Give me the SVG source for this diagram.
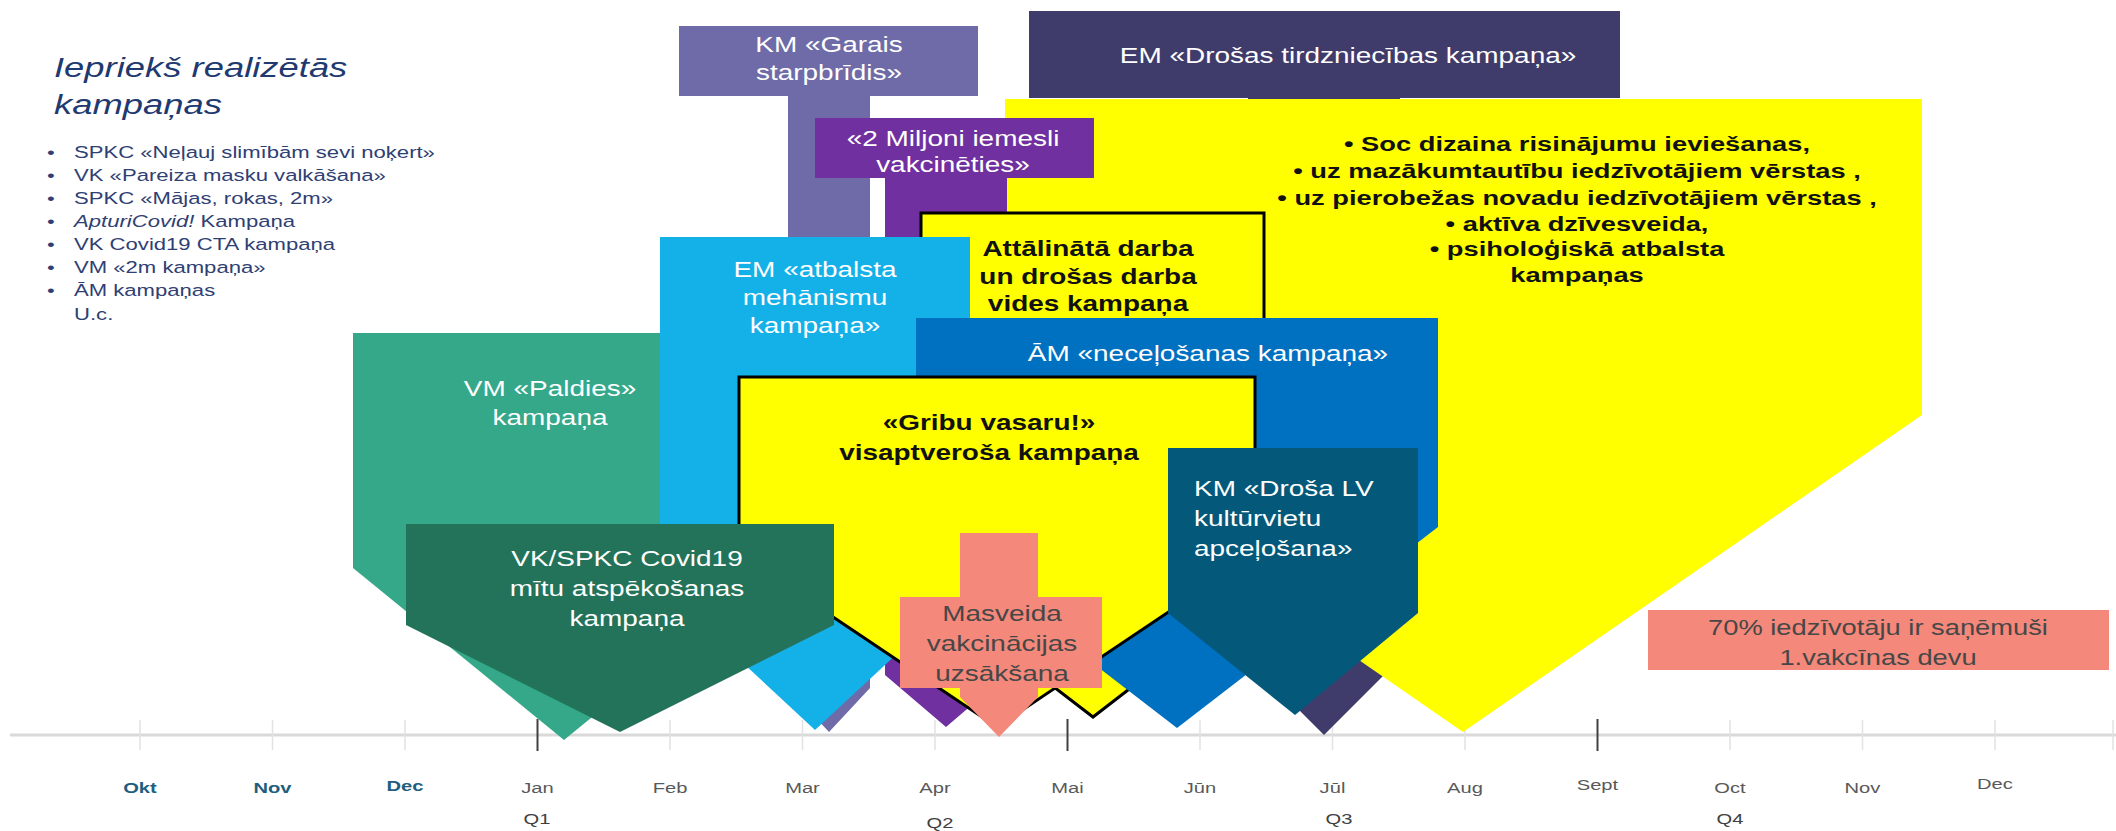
<svg xmlns="http://www.w3.org/2000/svg" width="2116" height="831" viewBox="0 0 2116 831" xml:space="preserve">
<style>
text{font-family:"Liberation Sans",Arial,sans-serif;}
.c{text-anchor:middle}
.w{fill:#ffffff;font-size:21.5px}
.dk{fill:#474747;font-size:21.5px}
.bk{fill:#111111;font-weight:bold;font-size:21.5px}
.yb{fill:#111111;font-weight:bold;font-size:21px}
.ttl{fill:#1F3A70;font-size:28px;font-style:italic}
.lst{fill:#2F4073;font-size:17px}
.mo{fill:#595959;font-size:15.5px;text-anchor:middle}
.mo1{fill:#1F5E7E;font-size:15.5px;font-weight:bold;text-anchor:middle}
.q{fill:#404040;font-size:15.5px;text-anchor:middle}
.bd{stroke:#000000;stroke-width:3;stroke-linejoin:miter}
.tl{stroke:#E2E2E2;stroke-width:1.5}
.td{stroke:#404040;stroke-width:2}
</style>
<rect x="0" y="0" width="2116" height="831" fill="#ffffff"/>

<g id="timeline">
<line x1="10" y1="735" x2="2116" y2="735" stroke="#D9D9D9" stroke-width="3"/>
<line class="tl" x1="140" y1="720" x2="140" y2="750"/>
<line class="tl" x1="272.5" y1="720" x2="272.5" y2="750"/>
<line class="tl" x1="405" y1="720" x2="405" y2="750"/>
<line class="td" x1="537.5" y1="719" x2="537.5" y2="751"/>
<line class="tl" x1="670" y1="720" x2="670" y2="750"/>
<line class="tl" x1="802.5" y1="720" x2="802.5" y2="750"/>
<line class="tl" x1="935" y1="720" x2="935" y2="750"/>
<line class="td" x1="1067.5" y1="719" x2="1067.5" y2="751"/>
<line class="tl" x1="1200" y1="720" x2="1200" y2="750"/>
<line class="tl" x1="1332.5" y1="720" x2="1332.5" y2="750"/>
<line class="tl" x1="1465" y1="720" x2="1465" y2="750"/>
<line class="td" x1="1597.5" y1="719" x2="1597.5" y2="751"/>
<line class="tl" x1="1730" y1="720" x2="1730" y2="750"/>
<line class="tl" x1="1862.5" y1="720" x2="1862.5" y2="750"/>
<line class="tl" x1="1995" y1="720" x2="1995" y2="750"/>
<line class="tl" x1="2113" y1="720" x2="2113" y2="750"/>
<g transform="scale(1.3 1)">
<text class="mo1" x="107.7" y="793">Okt</text>
<text class="mo1" x="209.6" y="793">Nov</text>
<text class="mo1" x="311.5" y="791">Dec</text>
<text class="mo" x="413.5" y="793">Jan</text>
<text class="mo" x="515.4" y="793">Feb</text>
<text class="mo" x="617.3" y="793">Mar</text>
<text class="mo" x="719.2" y="793">Apr</text>
<text class="mo" x="821.2" y="793">Mai</text>
<text class="mo" x="923.1" y="793">Jūn</text>
<text class="mo" x="1025" y="793">Jūl</text>
<text class="mo" x="1126.9" y="793">Aug</text>
<text class="mo" x="1228.8" y="790">Sept</text>
<text class="mo" x="1330.8" y="793">Oct</text>
<text class="mo" x="1432.7" y="793">Nov</text>
<text class="mo" x="1534.6" y="789">Dec</text>
<text class="q" x="413.1" y="824">Q1</text>
<text class="q" x="723.1" y="828">Q2</text>
<text class="q" x="1030" y="824">Q3</text>
<text class="q" x="1330.8" y="824">Q4</text>
</g>
</g>

<g id="connectors"></g>

<g id="km-garais">
<path d="M679,26 H978 V96 H870 V688 L829,732 L788,688 V96 H679 Z" fill="#6E6BA8"/>
<g transform="translate(829 0) scale(1.3 1)"><text class="w c" y="52">KM  «Garais</text><text class="w c" y="80">starpbrīdis»</text></g>
</g>

<g id="em-drosas">
<path d="M1029,11 H1620 V98 H1400 V659 L1324,735 L1248,659 V98 H1029 Z" fill="#3F3C6B"/>
<g transform="translate(1348 0) scale(1.3 1)"><text class="w c" y="63">EM «Drošas tirdzniecības kampaņa»</text></g>
</g>

<g id="soc-dizains">
<path d="M1005,99 H1922 V415 L1463,732 L1005,415 Z" fill="#FFFF00"/>
<g transform="translate(1577 0) scale(1.3 1)">
<text class="yb c" y="151">•  Soc dizaina risinājumu  ieviešanas,</text>
<text class="yb c" y="178">•   uz mazākumtautību  iedzīvotājiem vērstas ,</text>
<text class="yb c" y="205">•    uz pierobežas novadu  iedzīvotājiem vērstas ,</text>
<text class="yb c" y="231">•   aktīva dzīvesveida,</text>
<text class="yb c" y="256">•   psiholoģiskā  atbalsta</text>
<text class="yb c" y="282">kampaņas</text>
</g>
</g>

<g id="miljoni">
<path d="M815,118 H1094 V178 H1007 V675 L946,727 L885,675 V178 H815 Z" fill="#7030A0"/>
<g transform="translate(953 0) scale(1.3 1)"><text class="w c" y="146">«2 Miljoni iemesli</text><text class="w c" y="172">vakcinēties»</text></g>
</g>

<g id="attalinata">
<path class="bd" d="M921,213 H1264 V585 L1093,717 L921,585 Z" fill="#FFFF00"/>
<g transform="translate(1088 0) scale(1.3 1)"><text class="bk c" y="256">Attālinātā darba</text><text class="bk c" y="284">un drošas darba</text><text class="bk c" y="311">vides kampaņa</text></g>
</g>

<g id="vm-paldies">
<path d="M353,333 H775 V568 L564,740 L353,568 Z" fill="#35A88A"/>
<g transform="translate(550 0) scale(1.3 1)"><text class="w c" y="396">VM «Paldies»</text><text class="w c" y="425">kampaņa</text></g>
</g>

<g id="em-atbalsta">
<path d="M660,237 H970 V586 L815,730 L660,586 Z" fill="#14B0E8"/>
<g transform="translate(815 0) scale(1.3 1)"><text class="w c" y="277">EM «atbalsta</text><text class="w c" y="305">mehānismu</text><text class="w c" y="333">kampaņa»</text></g>
</g>

<g id="am-neceljosanas">
<path d="M916,318 H1438 V527 L1177,728 L916,527 Z" fill="#0070C0"/>
<g transform="translate(1208 0) scale(1.3 1)"><text class="w c" y="361">ĀM «neceļošanas kampaņa»</text></g>
</g>

<g id="gribu-vasaru">
<path class="bd" d="M739,377 H1255 V554 L997,727 L739,554 Z" fill="#FFFF00"/>
<g transform="translate(989 0) scale(1.3 1)"><text class="bk c" y="430">«Gribu vasaru!»</text><text class="bk c" y="460">visaptveroša kampaņa</text></g>
</g>

<g id="vk-spkc">
<path d="M406,524 H834 V625 L620,732 L406,625 Z" fill="#22735A"/>
<g transform="translate(627 0) scale(1.3 1)"><text class="w c" y="566">VK/SPKC Covid19</text><text class="w c" y="596">mītu atspēkošanas</text><text class="w c" y="626">kampaņa</text></g>
</g>

<g id="km-drosa-lv">
<path d="M1168,448 H1418 V613 L1295,715 L1168,613 Z" fill="#04597A"/>
<g transform="translate(1194 0) scale(1.3 1)"><text class="w" y="496">KM «Droša LV</text><text class="w" y="526">kultūrvietu</text><text class="w" y="556">apceļošana»</text></g>
</g>

<g id="masveida">
<path d="M960,533 H1038 V597 H1102 V688 H1038 V697 L999,737 L960,697 V688 H900 V597 H960 Z" fill="#F4887B"/>
<g transform="translate(1002 0) scale(1.3 1)"><text class="dk c" y="621">Masveida</text><text class="dk c" y="651">vakcinācijas</text><text class="dk c" y="681">uzsākšana</text></g>
</g>

<g id="vakcinas-70">
<rect x="1648" y="610" width="461" height="60" fill="#F4887B"/>
<g transform="translate(1878 0) scale(1.27 1)"><text class="dk c" y="635">70% iedzīvotāju ir saņēmuši</text><text class="dk c" y="665">1.vakcīnas devu</text></g>
</g>

<g id="iepriekš">
<g transform="translate(54 0) scale(1.3 1)"><text class="ttl" y="77">Iepriekš realizētās</text><text class="ttl" y="114">kampaņas</text></g>
<g transform="translate(47 0) scale(1.3 1)">
<text class="lst" x="0" y="158">•</text><text class="lst" x="20.8" y="158">SPKC «Neļauj slimībām sevi noķert»</text>
<text class="lst" x="0" y="181">•</text><text class="lst" x="20.8" y="181">VK «Pareiza masku valkāšana»</text>
<text class="lst" x="0" y="204">•</text><text class="lst" x="20.8" y="204">SPKC «Mājas, rokas, 2m»</text>
<text class="lst" x="0" y="227">•</text><text class="lst" x="20.8" y="227"><tspan font-style="italic">ApturiCovid!</tspan>  Kampaņa</text>
<text class="lst" x="0" y="250">•</text><text class="lst" x="20.8" y="250">VK Covid19  CTA kampaņa</text>
<text class="lst" x="0" y="273">•</text><text class="lst" x="20.8" y="273">VM «2m kampaņa»</text>
<text class="lst" x="0" y="296">•</text><text class="lst" x="20.8" y="296">ĀM kampaņas</text>
<text class="lst" x="20.8" y="320">U.c.</text>
</g>
</g>
</svg>
